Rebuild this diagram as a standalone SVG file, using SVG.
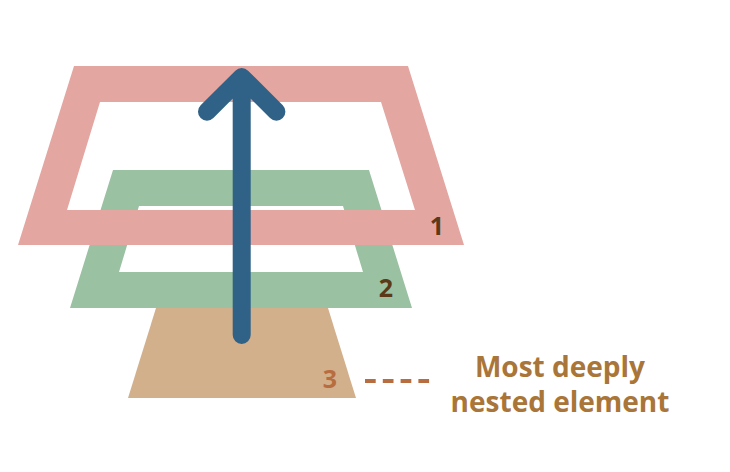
<svg xmlns="http://www.w3.org/2000/svg" width="730" height="472" viewBox="0 0 730 472">
<style>
.num{font-family:"Open Sans","Liberation Sans",sans-serif;font-weight:bold;font-size:25px;text-anchor:middle}
.lbl{font-family:"Open Sans","Liberation Sans",sans-serif;font-weight:bold;font-size:28px;fill:#a97538;text-anchor:middle}
</style>
<rect width="730" height="472" fill="#ffffff"/>
<g id="layer3">
<path d="M158.5,300 L325.5,300 L356,398 L128,398 Z" fill="#d3b08c"/>
<text class="num" x="330" y="388" fill="#b86d40">3</text>
</g>
<g id="layer2">
<path d="M113,170 L369,170 L412,308 L70,308 Z M139,206 L119,272 L363,272 L343,206 Z" fill="#9bc1a3" fill-rule="evenodd"/>
<text class="num" x="386" y="297" fill="#5c3a19">2</text>
</g>
<g id="layer1">
<path d="M74,66 L408,66 L464,245 L18,245 Z M100,102 L67,210 L415,210 L381,102 Z" fill="#e3a6a1" fill-rule="evenodd"/>
<text class="num" x="437" y="235" fill="#5c3a19">1</text>
</g>
<g id="connectors">
<path d="M241.7,335 L241.7,77 M207,111.7 L241.7,77 L276.4,111.7" fill="none" stroke="#306186" stroke-width="18" stroke-linecap="round" stroke-linejoin="round"/>
<line x1="365" y1="381" x2="430" y2="381" stroke="#b86d40" stroke-width="4" stroke-dasharray="10.7 7.1"/>
</g>
<g id="label">
<text class="lbl" x="560" y="377">Most deeply</text>
<text class="lbl" x="560" y="412">nested element</text>
</g>
</svg>
